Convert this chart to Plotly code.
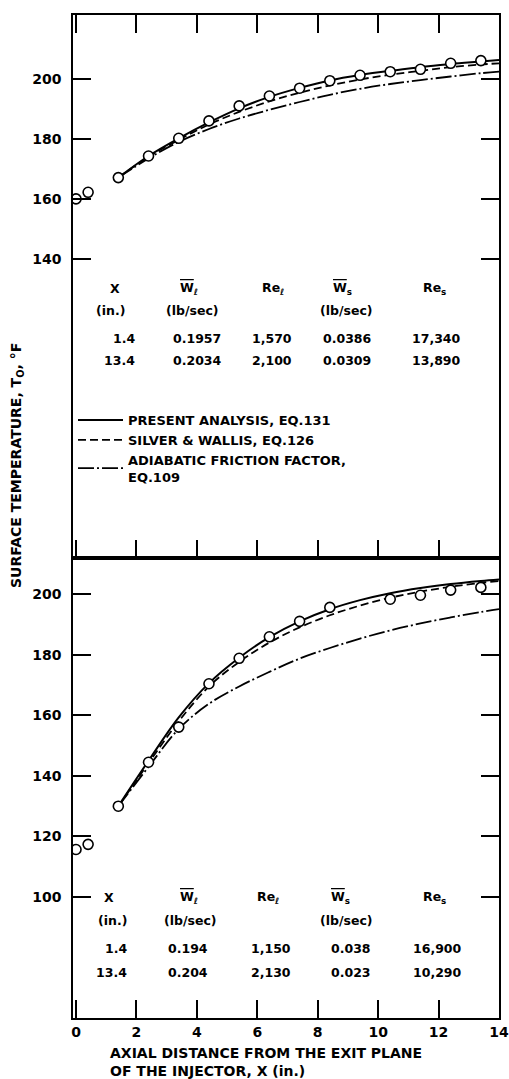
import plotly.graph_objects as go

# ---------------- data ----------------
top_pts_x = [0.0, 0.4, 1.4, 2.4, 3.4, 4.4, 5.4, 6.4, 7.4, 8.4, 9.4, 10.4, 11.4, 12.4, 13.4]
top_pts_T = [160.0, 162.2, 167.1, 174.3, 180.2, 186.0, 191.0, 194.3, 196.9, 199.4, 201.2, 202.4, 203.2, 205.2, 206.1]

curve_x = [1.4, 2.4, 3.4, 4.4, 5.4, 6.4, 7.4, 8.4, 9.4, 10.4, 11.4, 12.4, 13.4, 14.0]
top_present = [167.1, 174.3, 180.2, 185.5, 190.2, 194.0, 197.0, 199.5, 201.3, 202.7, 203.9, 205.0, 205.8, 206.3]
top_silver = [167.1, 174.0, 179.7, 184.8, 189.0, 192.5, 195.4, 197.8, 199.8, 201.4, 202.7, 203.9, 204.8, 205.2]
top_adiab = [167.1, 173.5, 179.0, 183.3, 186.8, 189.7, 192.3, 194.7, 196.7, 198.3, 199.6, 200.8, 201.9, 202.4]

bot_pts_x = [0.0, 0.4, 1.4, 2.4, 3.4, 4.4, 5.4, 6.4, 7.4, 8.4, 10.4, 11.4, 12.4, 13.4]
bot_pts_T = [115.7, 117.4, 130.0, 144.5, 156.1, 170.4, 178.8, 185.9, 191.0, 195.6, 198.3, 199.6, 201.3, 202.2]

bot_present = [130.0, 145.0, 159.3, 170.6, 179.0, 185.8, 191.0, 195.0, 198.0, 200.3, 202.0, 203.3, 204.3, 204.8]
bot_silver = [130.0, 144.2, 158.0, 169.5, 177.6, 184.0, 189.0, 193.0, 196.2, 198.8, 200.8, 202.4, 203.7, 204.3]
bot_adiab = [130.0, 143.0, 155.5, 163.8, 169.5, 174.3, 178.7, 182.2, 185.3, 188.0, 190.3, 192.3, 194.1, 195.0]

x_ticks = [0, 2, 4, 6, 8, 10, 12, 14]
top_y_ticks = [140, 160, 180, 200]
bot_y_ticks = [100, 120, 140, 160, 180, 200]

top_table_header = ["X", "<span style='text-decoration:overline'>W</span><sub>ℓ</sub>", "Re<sub>ℓ</sub>",
                    "<span style='text-decoration:overline'>W</span><sub>s</sub>", "Re<sub>s</sub>"]
units_row = ["(in.)", "(lb/sec)", "", "(lb/sec)", ""]
top_table_rows = [["1.4", "0.1957", "1,570", "0.0386", "17,340"],
                  ["13.4", "0.2034", "2,100", "0.0309", "13,890"]]
bot_table_rows = [["1.4", "0.194", "1,150", "0.038", "16,900"],
                  ["13.4", "0.204", "2,130", "0.023", "10,290"]]

legend_names = ["PRESENT ANALYSIS, EQ.131", "SILVER & WALLIS, EQ.126",
                "ADIABATIC FRICTION FACTOR,<br>EQ.109"]

# ---------------- layout geometry ----------------
W, H = 509, 1079
ML, MR, MT, MB = 73, 10, 15, 61
X_RANGE = [-0.1, 14.0]
TOP_RANGE = [40.3, 221.3]
BOT_RANGE = [60.1, 211.9]
SPLIT_PX = 558
plot_h = H - MT - MB
split_frac = (H - MB - SPLIT_PX) / plot_h

FONT = "DejaVu Sans"
BLACK = "black"

def px_to_x(px):
    return X_RANGE[0] + (px - ML) / (W - ML - MR) * (X_RANGE[1] - X_RANGE[0])

def py_to_top(py):
    return TOP_RANGE[1] - (py - MT) / (SPLIT_PX - MT) * (TOP_RANGE[1] - TOP_RANGE[0])

def py_to_bot(py):
    return BOT_RANGE[1] - (py - SPLIT_PX) / (H - MB - SPLIT_PX) * (BOT_RANGE[1] - BOT_RANGE[0])

fig = go.Figure()

line_styles = [dict(color=BLACK, width=2.0, dash="solid"),
               dict(color=BLACK, width=1.8, dash="8px,4px"),
               dict(color=BLACK, width=1.8, dash="16px,3px,2px,3px")]

for name, ys, st in zip(legend_names, [top_present, top_silver, top_adiab], line_styles):
    fig.add_trace(go.Scatter(x=curve_x, y=ys, mode="lines", name=name, line=dict(shape="spline", **st),
                             xaxis="x2", yaxis="y2", showlegend=True))
for ys, st in zip([bot_present, bot_silver, bot_adiab], line_styles):
    fig.add_trace(go.Scatter(x=curve_x, y=ys, mode="lines", line=dict(shape="spline", **st),
                             xaxis="x", yaxis="y", showlegend=False))

marker = dict(symbol="circle", size=10, color="white", line=dict(color=BLACK, width=1.6))
fig.add_trace(go.Scatter(x=top_pts_x, y=top_pts_T, mode="markers", marker=marker,
                         xaxis="x2", yaxis="y2", showlegend=False))
fig.add_trace(go.Scatter(x=bot_pts_x, y=bot_pts_T, mode="markers", marker=marker,
                         xaxis="x", yaxis="y", showlegend=False))

annotations = []
TF = dict(family=FONT, size=12.5, color=BLACK, weight="bold")

def add_table(xref, yconv, yref, header_cx, unit_cx, num_cx, x_right, rows_py, rows):
    hy, uy, r1y, r2y = rows_py
    for txt, cx in zip(top_table_header, header_cx):
        annotations.append(dict(x=px_to_x(cx), y=yconv(hy), xref=xref, yref=yref, text=txt, showarrow=False,
                                xanchor="center", yanchor="middle", font=TF))
    for txt, cx in zip(units_row, unit_cx):
        if txt:
            annotations.append(dict(x=px_to_x(cx), y=yconv(uy), xref=xref, yref=yref, text=txt,
                                    showarrow=False, xanchor="center", yanchor="middle", font=TF))
    for row, ry in zip(rows, [r1y, r2y]):
        annotations.append(dict(x=px_to_x(x_right), y=yconv(ry), xref=xref, yref=yref, text=row[0],
                                showarrow=False, xanchor="right", yanchor="middle", font=TF))
        for txt, cx in zip(row[1:], num_cx):
            annotations.append(dict(x=px_to_x(cx), y=yconv(ry), xref=xref, yref=yref, text=txt,
                                    showarrow=False, xanchor="center", yanchor="middle", font=TF))

add_table("x2", py_to_top, "y2", [115, 189, 273, 342, 434], [110, 192, 0, 346, 0], [197, 272, 347, 436], 137,
          [288, 310, 338, 360], top_table_rows)
add_table("x", py_to_bot, "y", [109, 189, 268, 340, 434], [112, 190, 0, 346, 0], [188, 271, 351, 437], 129,
          [897, 920, 948, 972], bot_table_rows)

annotations.append(dict(x=(17 - ML) / (W - ML - MR), y=(H - MB - 466) / plot_h, xref="paper", yref="paper",
                        text="SURFACE TEMPERATURE, T<sub>O</sub>, °F", textangle=-90, showarrow=False,
                        xanchor="center", yanchor="middle",
                        font=dict(family=FONT, size=14, color=BLACK, weight="bold")))
annotations.append(dict(x=(108 - ML) / (W - ML - MR), y=(H - MB - 1062) / plot_h, xref="paper", yref="paper",
                        text="AXIAL DISTANCE FROM THE EXIT PLANE<br>OF THE INJECTOR, X (in.)", align="left",
                        showarrow=False, xanchor="left", yanchor="middle",
                        font=dict(family=FONT, size=14, color=BLACK, weight="bold")))

TICKFONT = dict(family=FONT, size=14, color=BLACK, weight="bold")
COMMON = dict(showline=True, linecolor=BLACK, linewidth=1.6, ticks="inside", ticklen=18, tickwidth=2,
              tickcolor=BLACK, showgrid=False, zeroline=False, tickfont=TICKFONT)

fig.update_layout(
    width=W, height=H, margin=dict(l=ML, r=MR, t=MT, b=MB, autoexpand=False),
    paper_bgcolor="white", plot_bgcolor="rgba(0,0,0,0)",
    showlegend=True,
    legend=dict(x=0.0, y=(H - MB - 405) / plot_h, xanchor="left", yanchor="top", bgcolor="rgba(0,0,0,0)",
                font=dict(family=FONT, size=13, color=BLACK, weight="bold"), tracegroupgap=2, itemwidth=45),
    xaxis=dict(domain=[0, 1], range=X_RANGE, anchor="y", tickvals=x_ticks, mirror=True, **COMMON),
    yaxis=dict(domain=[0, split_frac], range=BOT_RANGE, anchor="x", tickvals=bot_y_ticks, mirror="ticks",
               ticklabelstandoff=7, **COMMON),
    xaxis2=dict(domain=[0, 1], range=X_RANGE, anchor="y2", tickvals=x_ticks, mirror="ticks",
                showticklabels=False, **COMMON),
    yaxis2=dict(domain=[split_frac, 1], range=TOP_RANGE, anchor="x2", tickvals=top_y_ticks, mirror="ticks",
                ticklabelstandoff=7, **COMMON),
    annotations=annotations,
)

fig.write_html("out.html")
